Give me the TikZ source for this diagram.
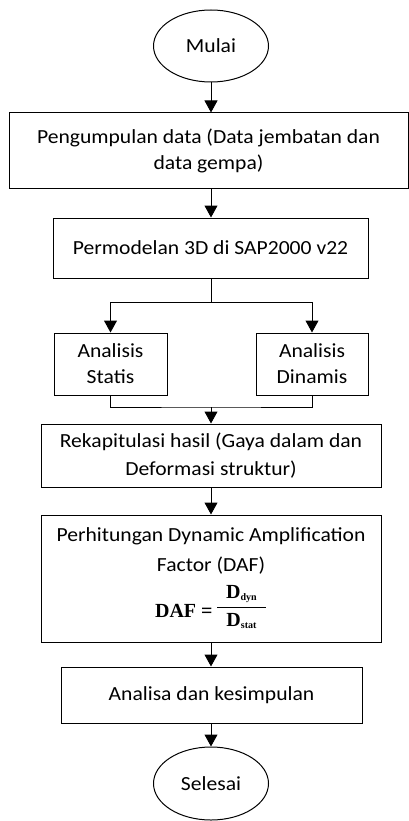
\documentclass[tikz,border=0pt]{standalone}
\usepackage{fontspec}
\setmainfont{Carlito}[FakeStretch=1.08]
\newfontfamily\daffont{Liberation Serif}
\newcommand\dafsub[2]{\mbox{\daffont\bfseries #1\raisebox{-2pt}{\fontsize{10}{10}\selectfont #2}}}
\usetikzlibrary{shapes.geometric,arrows.meta}
\begin{document}
\begin{tikzpicture}[x=1pt,y=-1pt,
  font=\fontsize{20}{26}\selectfont,
  box/.style={draw,line width=1pt,align=center,inner sep=0pt},
  oval/.style={draw,ellipse,line width=1pt,inner sep=0pt,minimum width=115,minimum height=72},
  flow/.style={-{Triangle[width=13pt,length=12pt]},line width=1pt}]
\useasboundingbox (0,0) rectangle (409,821);
\node[oval] (mulai) at (211,46) {Mulai};
\node[box,minimum width=399,minimum height=75] (kumpul) at (208.5,150.5) {Pengumpulan data (Data jembatan dan\\data gempa)};
\node[box,minimum width=315,minimum height=60] (model) at (210.5,248) {Permodelan 3D di SAP2000 v22};
\node[box,minimum width=113,minimum height=62] (statis) at (110.5,364) {Analisis\\Statis};
\node[box,minimum width=112,minimum height=62] (dinamis) at (312,364) {Analisis\\Dinamis};
\node[box,minimum width=340,minimum height=63] (rekap) at (211,455.5) {Rekapitulasi hasil (Gaya dalam dan\\[2pt]Deformasi struktur)};
\node[box,minimum width=340,minimum height=127] (hitung) at (211,578.5) {Perhitungan Dynamic Amplification\\[4pt]Factor (DAF)\\[10pt]
  {\daffont\bfseries DAF =}\,\raisebox{5pt}{$\displaystyle\frac{\hspace{9pt}\dafsub{D}{dyn}\hspace{9pt}}{\hspace{9pt}\dafsub{D}{stat}\hspace{9pt}}$}};
\node[box,minimum width=301,minimum height=56] (analisa) at (211.5,695) {Analisa dan kesimpulan};
\node[oval,minimum height=73] (selesai) at (211,783.5) {Selesai};
\coordinate (split) at (211,302);
\coordinate (merge) at (211,407);
\draw[flow] (mulai) -- (kumpul.north -| mulai);
\draw[flow] (kumpul.south -| mulai) -- (model.north -| mulai);
\draw[line width=1pt] (model.south -| split) -- (split);
\draw[flow] (split) -| (statis.north);
\draw[flow] (split) -| (dinamis.north);
\draw[line width=1pt] (statis.south) |- (merge) -| (dinamis.south);
\draw[flow] (merge) -- (rekap.north);
\draw[flow] (rekap) -- (hitung);
\draw[flow] (hitung) -- (analisa.north -| hitung);
\draw[flow] (analisa.south -| selesai) -- (selesai);
\end{tikzpicture}
\end{document}
